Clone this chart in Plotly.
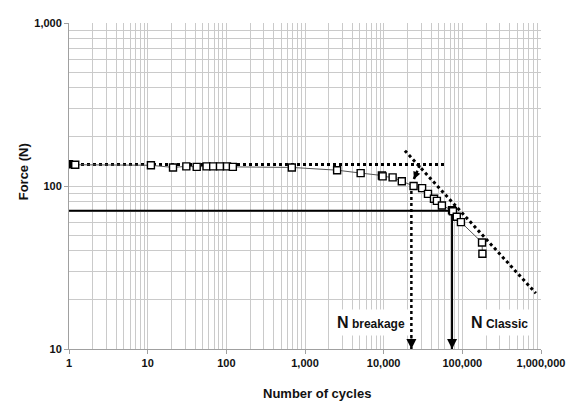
import plotly.graph_objects as go
import numpy as np

# ---- data ----
cycles = [1, 1.2, 11, 21, 31, 42, 56, 68, 83, 102, 121, 680, 2560, 5100,
          9500, 9700, 13000, 17000, 24000, 30800, 36600, 43600, 47500,
          55000, 74000, 76000, 85000, 96000, 178000, 180000]
force = [136, 135, 134, 130, 132, 131, 132, 132, 132, 132, 131, 130, 125, 120,
         116, 114.5, 113, 107, 100, 97, 89.5, 83.6, 81, 76, 71, 70, 64.7, 60,
         45, 38.4]

# horizontal dotted line (static force level)
static_x = [1, 60000]
static_y = [135.7, 135.7]
# inclined dotted line (fatigue slope)
slope_x = [18600, 859000]
slope_y = [164.8, 22.0]
# short dotted arrow from the intersection to the curve
inter_x = [28800, 24200]
inter_y = [134, 110]
# N breakage vertical dotted line
nbreak_x = [22500, 22500]
nbreak_y = [93.3, 10]
# classic criterion (solid)
classic_hx = [1, 73500]
classic_hy = [70.4, 70.4]
classic_vx = [74000, 74000]
classic_vy = [70.4, 10]

x_tickvals = [1, 10, 100, 1000, 10000, 100000, 1000000]
x_ticktext = ["1", "10", "100", "1,000", "10,000", "100,000", "1,000,000"]
y_tickvals = [10, 100, 1000]
y_ticktext = ["10", "100", "1,000"]

FONT = "Liberation Sans, Arial, sans-serif"
GRID = "#cacaca"

x_minor = [k * 10 ** d for d in range(0, 6) for k in range(2, 10)]
y_minor = [k * 10 ** d for d in range(1, 3) for k in range(2, 10)]

fig = go.Figure()

dot = dict(color="black", width=3, dash="dot")
fig.add_trace(go.Scatter(x=static_x, y=static_y, mode="lines", line=dot, hoverinfo="skip"))
fig.add_trace(go.Scatter(x=slope_x, y=slope_y, mode="lines", line=dot, hoverinfo="skip"))
fig.add_trace(go.Scatter(x=inter_x, y=inter_y, mode="lines", line=dict(color="black", width=2.5, dash="dot"), hoverinfo="skip"))
fig.add_trace(go.Scatter(x=nbreak_x, y=nbreak_y, mode="lines", line=dict(color="black", width=2.5, dash="dot"), hoverinfo="skip"))
fig.add_trace(go.Scatter(x=classic_hx, y=classic_hy, mode="lines", line=dict(color="black", width=2), hoverinfo="skip"))
fig.add_trace(go.Scatter(x=classic_vx, y=classic_vy, mode="lines", line=dict(color="black", width=2), hoverinfo="skip"))

fills = ["black"] + ["white"] * (len(cycles) - 1)
fig.add_trace(go.Scatter(
    x=cycles, y=force, mode="lines+markers",
    line=dict(color="#555555", width=1),
    marker=dict(symbol="square", size=7, color=fills,
                line=dict(color="black", width=1.4)),
))

# arrowheads
arrow_common = dict(text="", showarrow=True, arrowhead=2, arrowsize=1,
                    arrowcolor="black", xref="x", yref="y")
fig.add_annotation(x=np.log10(nbreak_x[1]), y=np.log10(nbreak_y[1]), ax=0, ay=-12, arrowwidth=2, **arrow_common)
fig.add_annotation(x=np.log10(classic_vx[1]), y=np.log10(classic_vy[1]), ax=0, ay=-12, arrowwidth=2, **arrow_common)
fig.add_annotation(x=np.log10(inter_x[1]), y=np.log10(inter_y[1]), ax=3, ay=-7, arrowwidth=1.5, **arrow_common)

# labels
fig.add_annotation(x=np.log10(6820), y=np.log10(14.6), xref="x", yref="y",
                   text="<b><span style='font-size:16px'>N</span> breakage</b>",
                   showarrow=False, bgcolor="white", borderpad=4,
                   font=dict(family=FONT, size=12, color="#111"))
fig.add_annotation(x=np.log10(295000), y=np.log10(14.6), xref="x", yref="y",
                   text="<b><span style='font-size:16px'>N</span> Classic</b>",
                   showarrow=False, bgcolor="white", borderpad=4,
                   font=dict(family=FONT, size=12, color="#111"))

# axis titles
fig.add_annotation(x=-0.0975, y=0.545, xref="paper", yref="paper",
                   xanchor="center", yanchor="middle",
                   text="<b>Force (N)</b>", textangle=-90, showarrow=False,
                   font=dict(family=FONT, size=13, color="#111"))
fig.add_annotation(x=0.525, y=-0.1355, xref="paper", yref="paper",
                   xanchor="center", yanchor="middle",
                   text="<b>Number of cycles</b>", showarrow=False,
                   font=dict(family=FONT, size=13, color="#111"))

axis_common = dict(showgrid=True, gridcolor=GRID, gridwidth=1,
                   showline=True, linecolor="#a0a0a0", linewidth=1,
                   ticks="outside", ticklen=4, tickcolor="#a0a0a0",
                   tickfont=dict(family=FONT, size=11, color="#111", weight="bold"),
                   zeroline=False)

fig.update_xaxes(type="log", range=[0, 6], tickvals=x_tickvals, ticktext=x_ticktext,
                 minor=dict(tickvals=x_minor, showgrid=True, gridcolor=GRID, ticks=""),
                 **axis_common)
fig.update_yaxes(type="log", range=[1, 3], tickvals=y_tickvals, ticktext=y_ticktext,
                 minor=dict(tickvals=y_minor, showgrid=True, gridcolor=GRID, ticks=""),
                 **axis_common)

# page body has an 8px margin: size figure so the plot lands where the reference has it
fig.update_layout(width=571, height=397, showlegend=False,
                  margin=dict(l=61, r=38, t=9, b=56),
                  plot_bgcolor="white", paper_bgcolor="white",
                  font=dict(family=FONT))

fig.write_html("out.html")
